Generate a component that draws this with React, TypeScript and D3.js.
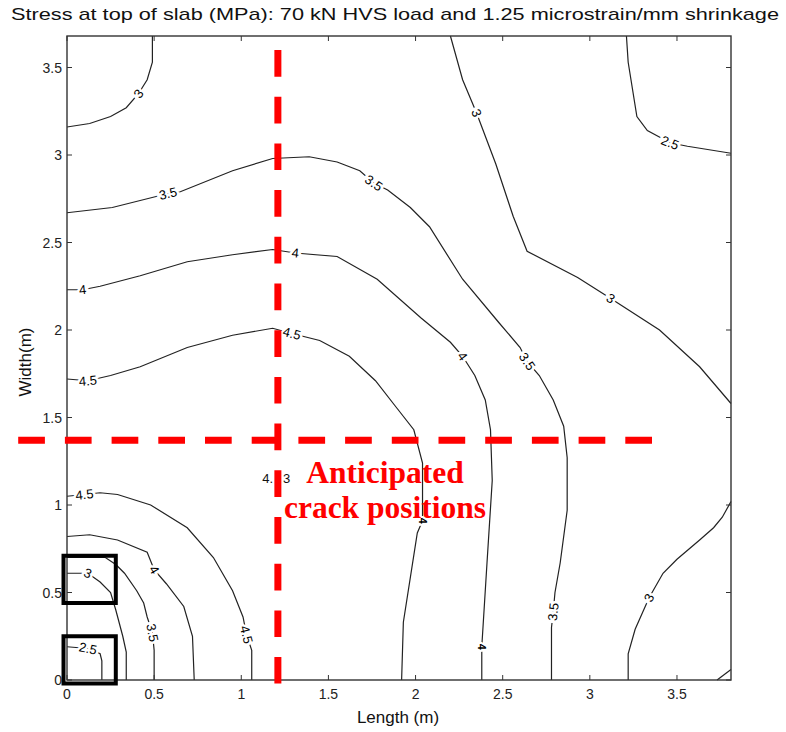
import React from 'react'
import * as d3 from 'd3'

// contour lines, [length, width] in metres
const c3TopLeft = [[0.49,3.68],[0.49,3.53],[0.46,3.43],[0.41,3.35],[0.34,3.27],[0.25,3.22],[0.13,3.18],[0,3.16]]
const c35Upper = [[0,2.67],[0.26,2.70],[0.58,2.78],[0.65,2.79],[0.95,2.91],[1.18,2.98],[1.39,2.99],[1.55,2.96],[1.68,2.91],[1.76,2.84],[1.84,2.80],[1.97,2.70],[2.08,2.59],[2.27,2.29],[2.48,2.04],[2.60,1.90],[2.64,1.82],[2.71,1.74],[2.79,1.60],[2.85,1.45],[2.87,1.27],[2.87,0.97],[2.83,0.67],[2.80,0.50],[2.79,0.39],[2.78,0.30],[2.78,0]]
const c3UpperRight = [[2.20,3.68],[2.27,3.43],[2.35,3.24],[2.46,2.95],[2.56,2.65],[2.64,2.45],[2.93,2.30],[3.12,2.18],[3.40,2.00],[3.63,1.79],[3.81,1.58]]
const c25TopRight = [[3.21,3.68],[3.22,3.53],[3.27,3.22],[3.33,3.14],[3.46,3.07],[3.56,3.05],[3.81,3.01]]
const c4Upper = [[0,2.23],[0.09,2.23],[0.19,2.25],[0.42,2.31],[0.69,2.39],[0.95,2.43],[1.18,2.46],[1.31,2.44],[1.55,2.42],[1.78,2.29],[2.03,2.07],[2.20,1.93],[2.27,1.85],[2.34,1.74],[2.40,1.60],[2.43,1.43],[2.44,1.14],[2.41,0.67],[2.38,0.19],[2.38,0]]
const c45Upper = [[0,1.72],[0.12,1.71],[0.25,1.74],[0.42,1.79],[0.69,1.90],[0.95,1.97],[1.18,2.01],[1.29,1.98],[1.45,1.94],[1.62,1.85],[1.77,1.71],[1.88,1.57],[1.99,1.43],[2.04,1.24],[2.04,1.05],[2.04,0.91],[2.01,0.84],[1.93,0.33],[1.92,0]]
const c45Lower = [[0,1.05],[0.10,1.06],[0.19,1.07],[0.29,1.06],[0.48,1.00],[0.69,0.87],[0.84,0.70],[0.95,0.51],[1.01,0.36],[1.03,0.26],[1.06,0.17],[1.06,0]]
const c4Lower = [[0,0.82],[0.13,0.83],[0.29,0.80],[0.46,0.73],[0.50,0.63],[0.57,0.55],[0.67,0.42],[0.72,0.25],[0.73,0]]
const c35Lower = [[0,0.70],[0.22,0.70],[0.28,0.66],[0.33,0.61],[0.40,0.51],[0.44,0.44],[0.46,0.36],[0.49,0.27],[0.50,0.17],[0.50,0]]
const c3Lower = [[0,0.61],[0.07,0.61],[0.12,0.61],[0.19,0.56],[0.25,0.50],[0.28,0.40],[0.32,0.25],[0.34,0.16],[0.34,0]]
const c25Lower = [[0,0.19],[0.12,0.18],[0.19,0.15],[0.20,0.11],[0.20,0]]
const c3LowerRight = [[3.22,0],[3.22,0.15],[3.26,0.29],[3.34,0.47],[3.42,0.61],[3.50,0.69],[3.63,0.80],[3.71,0.87],[3.76,0.93],[3.81,1.02]]
const c25Corner = [[3.73,0],[3.81,0.06]]

// level, line, indexes of label points, indexes of the smudged labels
const contours = [
  {level: '3', pts: c3TopLeft, labels: [3], smudged: []},
  {level: '3.5', pts: c35Upper, labels: [2, 9, 16, 24], smudged: []},
  {level: '3', pts: c3UpperRight, labels: [2, 7], smudged: []},
  {level: '2.5', pts: c25TopRight, labels: [4], smudged: []},
  {level: '4', pts: c4Upper, labels: [1, 7, 12], smudged: [18]},
  {level: '4.5', pts: c45Upper, labels: [1, 7], smudged: [15]},
  {level: '4.5', pts: c45Lower, labels: [1, 9], smudged: []},
  {level: '4', pts: c4Lower, labels: [4], smudged: []},
  {level: '3.5', pts: c35Lower, labels: [7], smudged: []},
  {level: '3', pts: c3Lower, labels: [2], smudged: []},
  {level: '2.5', pts: c25Lower, labels: [1], smudged: []},
  {level: '3', pts: c3LowerRight, labels: [3], smudged: []},
  {level: '2.5', pts: c25Corner, labels: [], smudged: []},
]

const xTicks = [0, 0.5, 1, 1.5, 2, 2.5, 3, 3.5]
const yTicks = [0, 0.5, 1, 1.5, 2, 2.5, 3, 3.5]
const xDomain = [0, 3.81]
const yDomain = [0, 3.68]

// anticipated crack positions (m)
const crackX = 1.21
const crackY = 1.37
const crackXSpan = [-0.02, 3.60]
const crackYSpan = [-0.28, 3.36]

// highlighted boxes [x0, y0, x1, y1]
const boxes = [[-0.02, 0.44, 0.28, 0.71], [-0.02, -0.02, 0.28, 0.25]]

export default function App() {
  const width = 786
  const height = 732
  const x = d3.scaleLinear().domain(xDomain).range([67, 731])
  const y = d3.scaleLinear().domain(yDomain).range([680, 36])
  const line = d3.line<number[]>().x(d => x(d[0])).y(d => y(d[1]))

  const labelAngle = (pts: number[][], i: number) => {
    const a = pts[Math.max(0, i - 1)]
    const b = pts[Math.min(pts.length - 1, i + 1)]
    let ang = Math.atan2(y(b[1]) - y(a[1]), x(b[0]) - x(a[0])) * 180 / Math.PI
    if (ang > 90) ang -= 180
    if (ang <= -90) ang += 180
    return ang
  }

  const font = 'Arial, "Liberation Sans", sans-serif'

  return (
    <svg width={width} height={height} style={{display: 'block', position: 'absolute', left: 0, top: 0}} fontFamily={font}>
      <rect width={width} height={height} fill="white" />

      <text x={11} y={20} fontSize={17} textLength={768} lengthAdjust="spacingAndGlyphs" fill="#111">
        Stress at top of slab (MPa): 70 kN HVS load and 1.25 microstrain/mm shrinkage
      </text>

      {/* contour lines */}
      <g fill="none" stroke="#222" strokeWidth={1.2}>
        {contours.map((c, i) => <path key={i} d={line(c.pts) || ''} />)}
      </g>

      {/* clabel style labels */}
      <g fontSize={13} fill="#000" textAnchor="middle" dominantBaseline="central">
        {contours.map((c, i) => c.labels.map(j => (
          <text key={i + '-' + j} transform={`translate(${x(c.pts[j][0])},${y(c.pts[j][1])}) rotate(${labelAngle(c.pts, j)})`}
            stroke="white" strokeWidth={5} paintOrder="stroke">{c.level}</text>
        )))}
        {contours.map((c, i) => c.smudged.map(j => (
          <text key={'s' + i + '-' + j} transform={`translate(${x(c.pts[j][0])},${y(c.pts[j][1])}) rotate(90)`}
            fontSize={11} fontWeight="bold" stroke="white" strokeWidth={4} paintOrder="stroke">{c.level.charAt(0)}</text>
        )))}
      </g>

      {/* frame and ticks */}
      <rect x={67} y={36} width={664} height={644} fill="none" stroke="#333" strokeWidth={1.4} />
      <g stroke="#333" strokeWidth={1}>
        {xTicks.map(t => <line key={'xb' + t} x1={x(t)} x2={x(t)} y1={680} y2={675} />)}
        {xTicks.map(t => <line key={'xt' + t} x1={x(t)} x2={x(t)} y1={36} y2={41} />)}
        {yTicks.map(t => <line key={'yl' + t} x1={67} x2={72} y1={y(t)} y2={y(t)} />)}
        {yTicks.map(t => <line key={'yr' + t} x1={731} x2={726} y1={y(t)} y2={y(t)} />)}
      </g>
      <g fontSize={14} fill="#222">
        {xTicks.map(t => <text key={'xl' + t} x={x(t)} y={699} textAnchor="middle">{t}</text>)}
        {yTicks.map(t => <text key={'yl' + t} x={62} y={y(t) + 5} textAnchor="end">{t}</text>)}
      </g>
      <text x={398} y={723} fontSize={17} textAnchor="middle" fill="#111">Length (m)</text>
      <text transform="translate(31,362) rotate(-90)" fontSize={17} textAnchor="middle" fill="#111">Width(m)</text>

      {/* half hidden label by the crack line */}
      <g fontSize={13} fill="#111">
        <text x={273} y={483} textAnchor="end">4.</text>
        <text x={283} y={483}>3</text>
      </g>

      {/* highlight boxes */}
      <g fill="none" stroke="black" strokeWidth={4}>
        {boxes.map((b, i) => (
          <rect key={i} x={x(b[0])} y={y(b[3])} width={x(b[2]) - x(b[0])} height={y(b[1]) - y(b[3])} />
        ))}
      </g>

      {/* anticipated crack positions */}
      <g stroke="red" strokeWidth={7} strokeDasharray="26.7 20">
        <line x1={x(crackX)} x2={x(crackX)} y1={y(crackXSpan[1])} y2={y(crackXSpan[0])} />
        <line x1={x(crackYSpan[0])} x2={x(crackYSpan[1])} y1={y(crackY)} y2={y(crackY)} />
      </g>
      <g fill="red" fontFamily='"Times New Roman", "Liberation Serif", serif' fontWeight="bold" fontSize={31.5} textAnchor="middle">
        <text x={385} y={483}>Anticipated</text>
        <text x={385} y={518}>crack positions</text>
      </g>
    </svg>
  )
}
